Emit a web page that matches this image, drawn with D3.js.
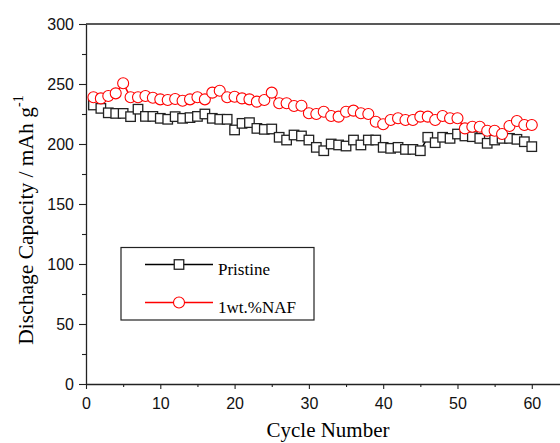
<!DOCTYPE html>
<html>
<head>
<meta charset="utf-8">
<script src="https://cdn.jsdelivr.net/npm/d3@7"></script>
<style>
  body { margin: 0; background: #fff; }
</style>
</head>
<body>
<script>
// cycle data
var cycles = d3.range(1, 61);

var pristine = [232.5, 229.7, 226, 225.5, 225.5, 222.8, 229, 223, 223, 221.4,
                220.6, 222.8, 221.4, 222, 223, 225, 221.4, 220.6, 220.6, 211.7,
                217.2, 217.8, 213, 212.2, 212.5, 205.6, 203.3, 207.5, 206.7, 203.3,
                197.2, 194.4, 200, 199.2, 198.3, 203.3, 199.2, 203.3, 203.3, 197.2,
                196.4, 197.2, 195.5, 195.5, 194.4, 205.6, 201.1, 205.6, 204.7, 208.3,
                206.7, 206.1, 204.7, 200.6, 203.3, 204.7, 204.7, 203.9, 201.9, 197.8];

var naf = [238.9, 238, 240, 242.2, 250.6, 238.9, 238.9, 240, 238.6, 237.2,
           236.7, 237.5, 236.1, 237.2, 238.9, 237.2, 242.8, 244.4, 238.9, 239.4,
           238, 237.2, 235.3, 236.7, 242.8, 233.9, 233.9, 231.7, 231.9, 225.6,
           225, 226.9, 223.3, 222.8, 226.9, 227.8, 225.6, 225, 218.6, 216.4,
           220, 221.4, 220, 220, 222.8, 222.8, 220, 223.3, 221.4, 221.4,
           213, 214.4, 214.4, 211.1, 211.1, 208.3, 215, 219.2, 215.8, 215.8];

var seriesNames = ["Pristine", "1wt.%NAF"];
var xTicks = [0, 10, 20, 30, 40, 50, 60];
var yTicks = [0, 50, 100, 150, 200, 250, 300];

var svg_width = 560, svg_height = 443;
var margin = {left: 86, top: 24, bottom: 384};

var svg = d3.select("body").append("svg")
    .attr("width", svg_width).attr("height", svg_height);

var x = d3.scaleLinear().domain([0, 64]).range([margin.left, 561.5]);
var y = d3.scaleLinear().domain([0, 300]).range([margin.bottom, margin.top]);

var axisColor = "#222";

// top border
svg.append("line")
    .attr("x1", margin.left).attr("x2", svg_width)
    .attr("y1", margin.top).attr("y2", margin.top)
    .attr("stroke", axisColor).attr("stroke-width", 1.3);

// x axis
svg.append("g")
    .attr("transform", "translate(0," + margin.bottom + ")")
    .call(d3.axisBottom(x).tickValues(xTicks).tickSize(5).tickPadding(9).tickSizeOuter(0));
svg.append("g")
    .attr("transform", "translate(0," + margin.bottom + ")")
    .call(d3.axisBottom(x).tickValues(d3.range(5, 65, 10)).tickSize(3).tickFormat(""))
    .select(".domain").remove();

// y axis
svg.append("g")
    .attr("transform", "translate(" + margin.left + ",0)")
    .call(d3.axisLeft(y).tickValues(yTicks).tickSize(7).tickPadding(5).tickSizeOuter(0));
svg.append("g")
    .attr("transform", "translate(" + margin.left + ",0)")
    .call(d3.axisLeft(y).tickValues(d3.range(25, 300, 50)).tickSize(4).tickFormat(""))
    .select(".domain").remove();

svg.selectAll(".domain").attr("stroke", axisColor).attr("stroke-width", 1.3);
svg.selectAll(".tick line").attr("stroke", axisColor).attr("stroke-width", 1.1);
svg.selectAll(".tick text")
    .attr("font-family", "Liberation Sans, Arial, sans-serif")
    .attr("font-size", 16).attr("fill", "#111");

// axis titles
svg.append("text")
    .attr("x", 328).attr("y", 437)
    .attr("text-anchor", "middle")
    .attr("font-family", "Liberation Serif, Times New Roman, serif")
    .attr("font-size", 21)
    .text("Cycle Number");

var yTitle = svg.append("text")
    .attr("transform", "translate(33,220) rotate(-90)")
    .attr("text-anchor", "middle")
    .attr("font-family", "Liberation Serif, Times New Roman, serif")
    .attr("font-size", 21.5);
yTitle.append("tspan").text("Dischage Capacity / mAh g");
yTitle.append("tspan").attr("dy", -10).attr("font-size", 14).text("-1");

// series
var line = d3.line()
    .x(function(d, i) { return x(cycles[i]); })
    .y(function(d) { return y(d); });

svg.append("path").datum(pristine)
    .attr("d", line).attr("fill", "none")
    .attr("stroke", "#000").attr("stroke-width", 1.5);

svg.append("path").datum(naf)
    .attr("d", line).attr("fill", "none")
    .attr("stroke", "#ff0000").attr("stroke-width", 1.5);

var sq = 9.5;
svg.selectAll("rect.pristine").data(pristine).enter().append("rect")
    .attr("class", "pristine")
    .attr("x", function(d, i) { return x(cycles[i]) - sq / 2; })
    .attr("y", function(d) { return y(d) - sq / 2; })
    .attr("width", sq).attr("height", sq)
    .attr("fill", "#fff").attr("stroke", "#222").attr("stroke-width", 1.3);

svg.selectAll("circle.naf").data(naf).enter().append("circle")
    .attr("class", "naf")
    .attr("cx", function(d, i) { return x(cycles[i]); })
    .attr("cy", function(d) { return y(d); })
    .attr("r", 5.5)
    .attr("fill", "#fff").attr("stroke", "#ff0000").attr("stroke-width", 1.1);

// legend
var legend = svg.append("g");
legend.append("rect")
    .attr("x", 121).attr("y", 247.5).attr("width", 193).attr("height", 72.5)
    .attr("fill", "#fff").attr("stroke", "#222").attr("stroke-width", 1.2);

var rowsY = [264.5, 302.5];
var colors = ["#000", "#ff0000"];
seriesNames.forEach(function(name, i) {
  legend.append("line")
      .attr("x1", 145).attr("x2", 213)
      .attr("y1", rowsY[i]).attr("y2", rowsY[i])
      .attr("stroke", colors[i]).attr("stroke-width", 1.5);
  if (i === 0) {
    legend.append("rect")
        .attr("x", 179 - sq / 2).attr("y", rowsY[i] - sq / 2)
        .attr("width", sq).attr("height", sq)
        .attr("fill", "#fff").attr("stroke", "#222").attr("stroke-width", 1.3);
  } else {
    legend.append("circle")
        .attr("cx", 179).attr("cy", rowsY[i]).attr("r", 5.5)
        .attr("fill", "#fff").attr("stroke", "#ff0000").attr("stroke-width", 1.1);
  }
  legend.append("text")
      .attr("x", 218).attr("y", rowsY[i] + 10)
      .attr("font-family", "Liberation Serif, Times New Roman, serif")
      .attr("font-size", 17)
      .text(name);
});
</script>
</body>
</html>
